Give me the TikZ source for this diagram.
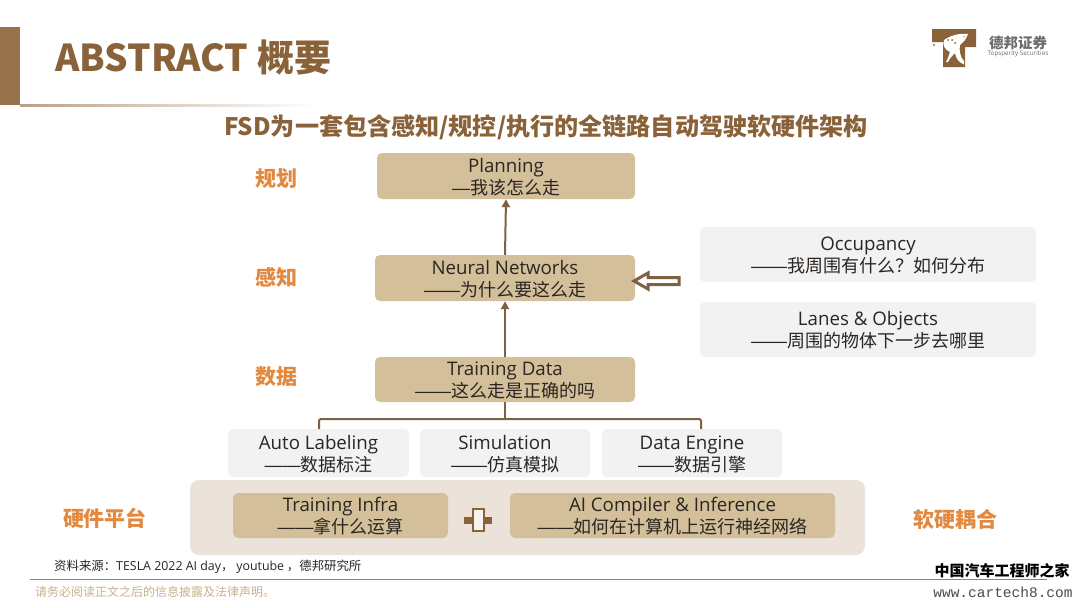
\documentclass[tikz,border=0pt]{standalone}
\usepackage{fontspec}
\setmainfont{Noto Sans CJK SC}
\newfontfamily\latinf{Open Sans}
\newfontfamily\dashf{Liberation Sans}
\newfontfamily\monof{Liberation Mono}
\usetikzlibrary{arrows.meta,shapes.misc,fadings}
\definecolor{brownA}{HTML}{8A6239}
\definecolor{brownB}{HTML}{7D6145}
\definecolor{tan}{HTML}{D3C09A}
\definecolor{panel}{HTML}{EBE2D9}
\definecolor{softg}{HTML}{F2F2F3}
\definecolor{orangeL}{HTML}{E2883F}
\definecolor{ink}{HTML}{2B2622}
\newcommand{\dd}{{\dashf ——}}
\newcommand{\sd}{{\dashf —}}
\tikzset{
  x=1pt,y=-1pt,
  box/.style={draw=none,rounded corners=5pt,align=center,text=ink,inner sep=0pt,font=\fontsize{18}{22}\selectfont},
  tanbox/.style={box,fill=tan},
  softbox/.style={box,fill=softg},
  side/.style={text=orangeL,font=\fontsize{21}{24}\selectfont\bfseries,inner sep=0pt},
  link/.style={draw=brownB,line width=2pt,-{Triangle[length=8pt,width=8pt]}},
  brack/.style={draw=brownB,line width=2pt,rounded corners=1.5pt},
}
\newcommand{\lat}[1]{{\latinf\fontsize{18.7}{22}\selectfont\rule{0pt}{16pt}#1}}
\newcommand{\boxat}[7]{\node[#1,minimum width=#4pt-#3pt,minimum height=#6pt-#5pt] (#2) at ({(#3+#4)/2},{(#5+#6)/2}) {#7};}
\begin{document}
\begin{tikzpicture}
\useasboundingbox (0,0) rectangle (1080,608);
\fill[white] (0,0) rectangle (1080,608);
% header
\fill[brownA!90!white] (0,27) rectangle (20,105);
\shade[left color=brownA!60!white,right color=white] (20,104.3) rectangle (316,106);
\node[anchor=west,inner sep=0pt,text=brownA,font=\fontsize{37}{40}\selectfont\bfseries] (title) at (55,58) {ABSTRACT 概要};
\node[inner sep=0pt,text=brownA,font=\fontsize{24.1}{26}\selectfont\bfseries] (sub) at (546,127) {FSD为一套包含感知/规控/执行的全链路自动驾驶软硬件架构};
% logo
\fill[brownA] (932,29) -- (976,29) -- (976,47) -- (965,47) -- (965,67) -- (943,67) -- (943,42) -- (932,42) -- cycle;
\fill[white] (968,34) .. controls (958,33) and (950,36) .. (944,40) .. controls (942,45) and (945,50) .. (950,52) .. controls (949,55) and (948,58) .. (946,62) -- (948,62) .. controls (950,58) and (953,55) .. (955,53) .. controls (956,58) and (958,62) .. (964,64.5) -- (964,61) .. controls (960,57) and (959,50) .. (960,45) -- (965,40) -- cycle;
\fill[brownA] (948,40) circle (1) (952,40) circle (1) (955,43) circle (1) (964,36.5) circle (0.7);
\fill[brownA!70!white] (934,45) circle (1.4);
\node[inner sep=0pt,text=gray!85!black,font=\fontsize{14.5}{16}\selectfont\bfseries] (logoa) at (1018,43) {德邦证券};
\node[inner sep=0pt,text=gray!85!black,font=\latinf\fontsize{6.3}{7}\selectfont] (logob) at (1018,54) {Topsperity Securities};
% panel
\boxat{box,fill=panel,rounded corners=9pt}{hw}{190}{865}{480}{555}{}
% boxes
\boxat{tanbox}{plan}{377}{635}{153}{199}{\lat{Planning}\\\sd 我该怎么走}
\boxat{tanbox}{nn}{375}{635}{255}{301}{\lat{Neural Networks}\\\dd 为什么要这么走}
\boxat{tanbox}{td}{375}{635}{357}{402}{\lat{Training Data}\\\dd 这么走是正确的吗}
\boxat{softbox}{occ}{700}{1036}{227}{282}{\lat{Occupancy}\\\dd 我周围有什么？如何分布}
\boxat{softbox}{lanes}{700}{1036}{302}{357}{\lat{Lanes \& Objects}\\\dd 周围的物体下一步去哪里}
\boxat{softbox}{auto}{228}{409}{429}{477}{\lat{Auto Labeling}\\\dd 数据标注}
\boxat{softbox}{simu}{420}{590}{429}{477}{\lat{Simulation}\\\dd 仿真模拟}
\boxat{softbox}{dataeng}{602}{782}{429}{477}{\lat{Data Engine}\\\dd 数据引擎}
\boxat{tanbox}{infra}{233}{448}{493}{538}{\lat{Training Infra}\\\dd 拿什么运算}
\boxat{tanbox}{aic}{510}{835}{493}{538}{\lat{AI Compiler \& Inference}\\\dd 如何在计算机上运行神经网络}
% connectors
\draw[link] (nn.north) -- (plan.south);
\draw[link] (td.north) -- (nn.south);
\coordinate (bl) at (319,429);
\coordinate (br) at (701,429);
\coordinate (bm) at (505,419);
\draw[brack] (bl) -- (319,419) -- (701,419) -- (br);
\draw[brack] (td.south) -- (bm);
% hollow arrow
\draw[draw=brownB,fill=white,line width=3pt,line join=miter] (634,281) -- (648,273) -- (648,277.5) -- (679,277.5) -- (679,284.5) -- (648,284.5) -- (648,289) -- cycle;
% coupling symbol
\fill[brownA] (464,517) rectangle (492,524);
\draw[draw=brownA,fill=panel!40!white,line width=2.6pt] (473,509) rectangle (484,531);
% side labels
\node[side] (s1) at (276,179) {规划};
\node[side] (s2) at (276,277) {感知};
\node[side] (s3) at (276,377) {数据};
\node[side] (s4) at (105,518) {硬件平台};
\node[side] (s5) at (955,519) {软硬耦合};
% footer
\node[anchor=west,inner sep=0pt,text=ink,font=\fontsize{12.4}{14}\selectfont] (src) at (54,567) {资料来源：{\latinf TESLA 2022 AI day}， {\latinf youtube} ，德邦研究所};
\draw[draw=brownB!80!white,line width=0.9pt] (30,579) -- (1047,579);
\node[anchor=west,inner sep=0pt,text=tan!85!brownA,font=\fontsize{12}{14}\selectfont] (disc) at (35,592) {请务必阅读正文之后的信息披露及法律声明。};
\node[inner sep=0pt,text=black,font=\fontsize{15}{17}\selectfont\bfseries] (wm1) at (1002,571) {中国汽车工程师之家};
\node[inner sep=0pt,text=black!70,font=\monof\fontsize{14.5}{16}\selectfont] (wm2) at (1003,592) {www.cartech8.com};
\end{tikzpicture}
\end{document}
